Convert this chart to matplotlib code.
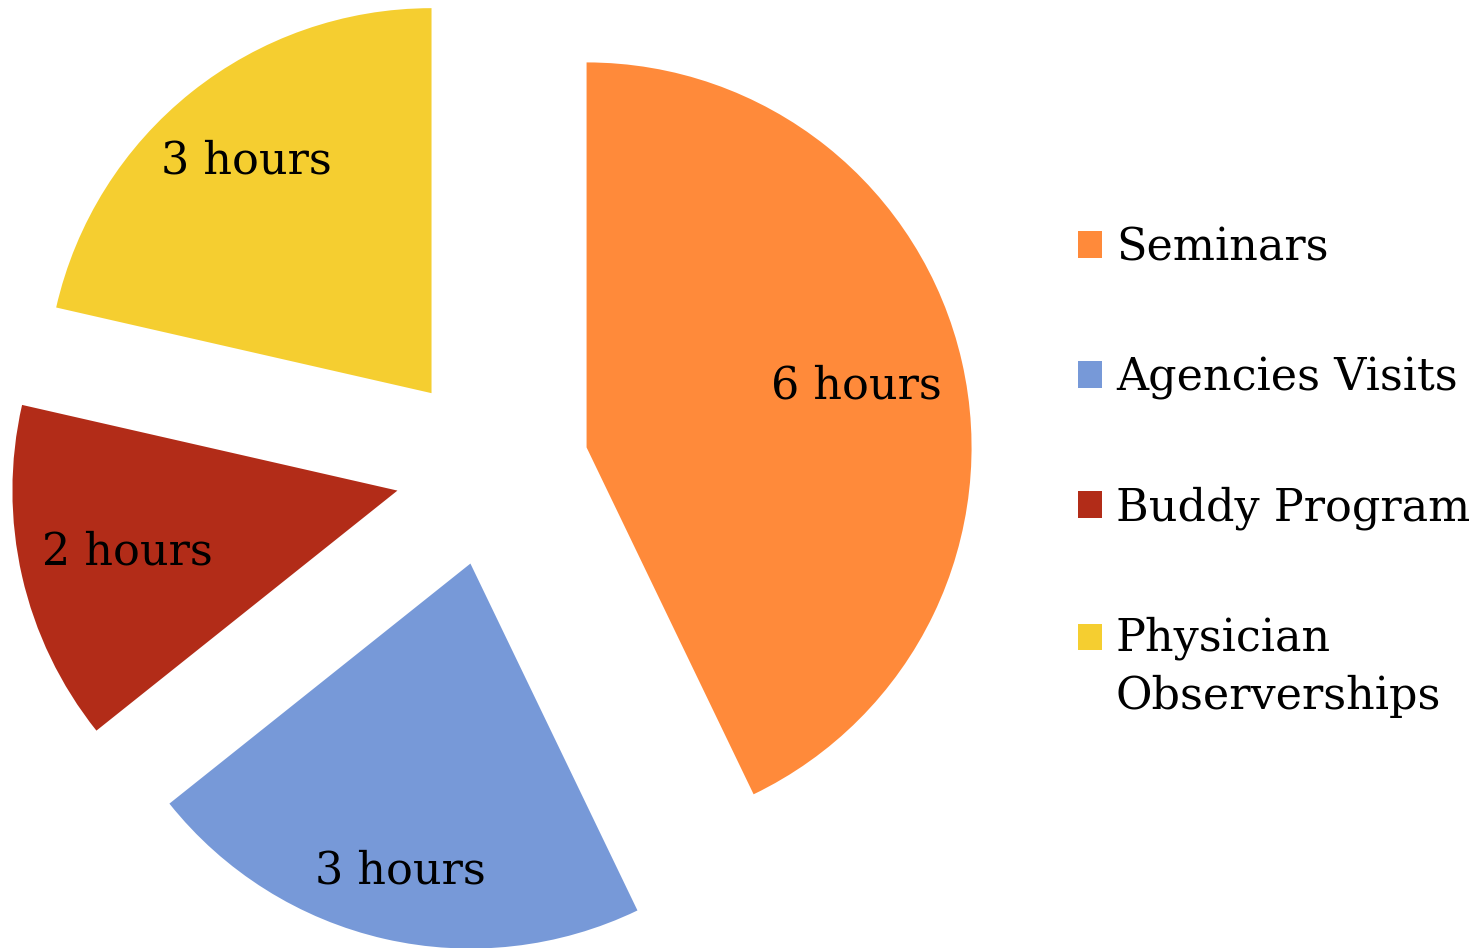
"""
Exploded pie chart: hours per activity
"""
import numpy as np
import matplotlib.pyplot as plt
import matplotlib.patches as mpatches
from matplotlib.legend_handler import HandlerPatch

categories = ['Seminars', 'Agencies Visits', 'Buddy Program', 'Physician\nObserverships']
hours = [6, 3, 2, 3]
colors = ['#FF8A3A', '#7799D8', '#B22C18', '#F5CE30']
label_dist = [0.72, 0.82, 0.72, 0.77]  # label distance per wedge (fraction of radius)

plt.rcParams['font.family'] = ['DejaVu Serif']
FS = 32
LINESP = 1.42

fig = plt.figure(figsize=(14.74, 9.48), dpi=100)
ax = fig.add_axes([0, 0, 1, 1])

total = sum(hours)
radius = 385
wedges, texts, autotexts = ax.pie(
    hours,
    colors=colors,
    startangle=90,
    counterclock=False,
    radius=radius,
    center=(492, 479),
    explode=[97] * len(hours),
    autopct=lambda p: f'{round(p * total / 100)} hours',
    textprops={'fontsize': FS, 'color': 'black'},
    frame=True,
)

# move each label along the wedge bisector
for w, t, d in zip(wedges, autotexts, label_dist):
    a = np.deg2rad((w.theta1 + w.theta2) / 2)
    cx, cy = w.center
    t.set_position((cx + d * w.r * np.cos(a), cy + d * w.r * np.sin(a)))

ax.set_xlim(0, 1474)
ax.set_ylim(0, 948)
ax.axis('off')


# square handle aligned with the first line of a multi-line label
class TopHandler(HandlerPatch):
    def __init__(self, nlines, **kw):
        super().__init__(**kw)
        self.nlines = nlines

    def create_artists(self, legend, orig_handle, xdescent, ydescent,
                       width, height, fontsize, trans):
        shift = (self.nlines - 1) * LINESP * fontsize / 2
        p = mpatches.Rectangle((-xdescent, -ydescent + shift), width, height,
                               facecolor=orig_handle.get_facecolor(), lw=0)
        p.set_transform(trans)
        return [p]


handler_map = {w: TopHandler(lab.count('\n') + 1) for w, lab in zip(wedges, categories)}
leg = ax.legend(wedges, categories, loc='upper left',
                bbox_to_anchor=(1078 / 1474, 1 - 226 / 948),
                bbox_transform=fig.transFigure,
                frameon=False, fontsize=FS, borderpad=0, borderaxespad=0,
                handlelength=0.55, handleheight=0.55, handletextpad=0.3,
                labelspacing=1.95, handler_map=handler_map)
for t in leg.get_texts():
    t.set_linespacing(LINESP)

fig.savefig('out.png', dpi=100)
